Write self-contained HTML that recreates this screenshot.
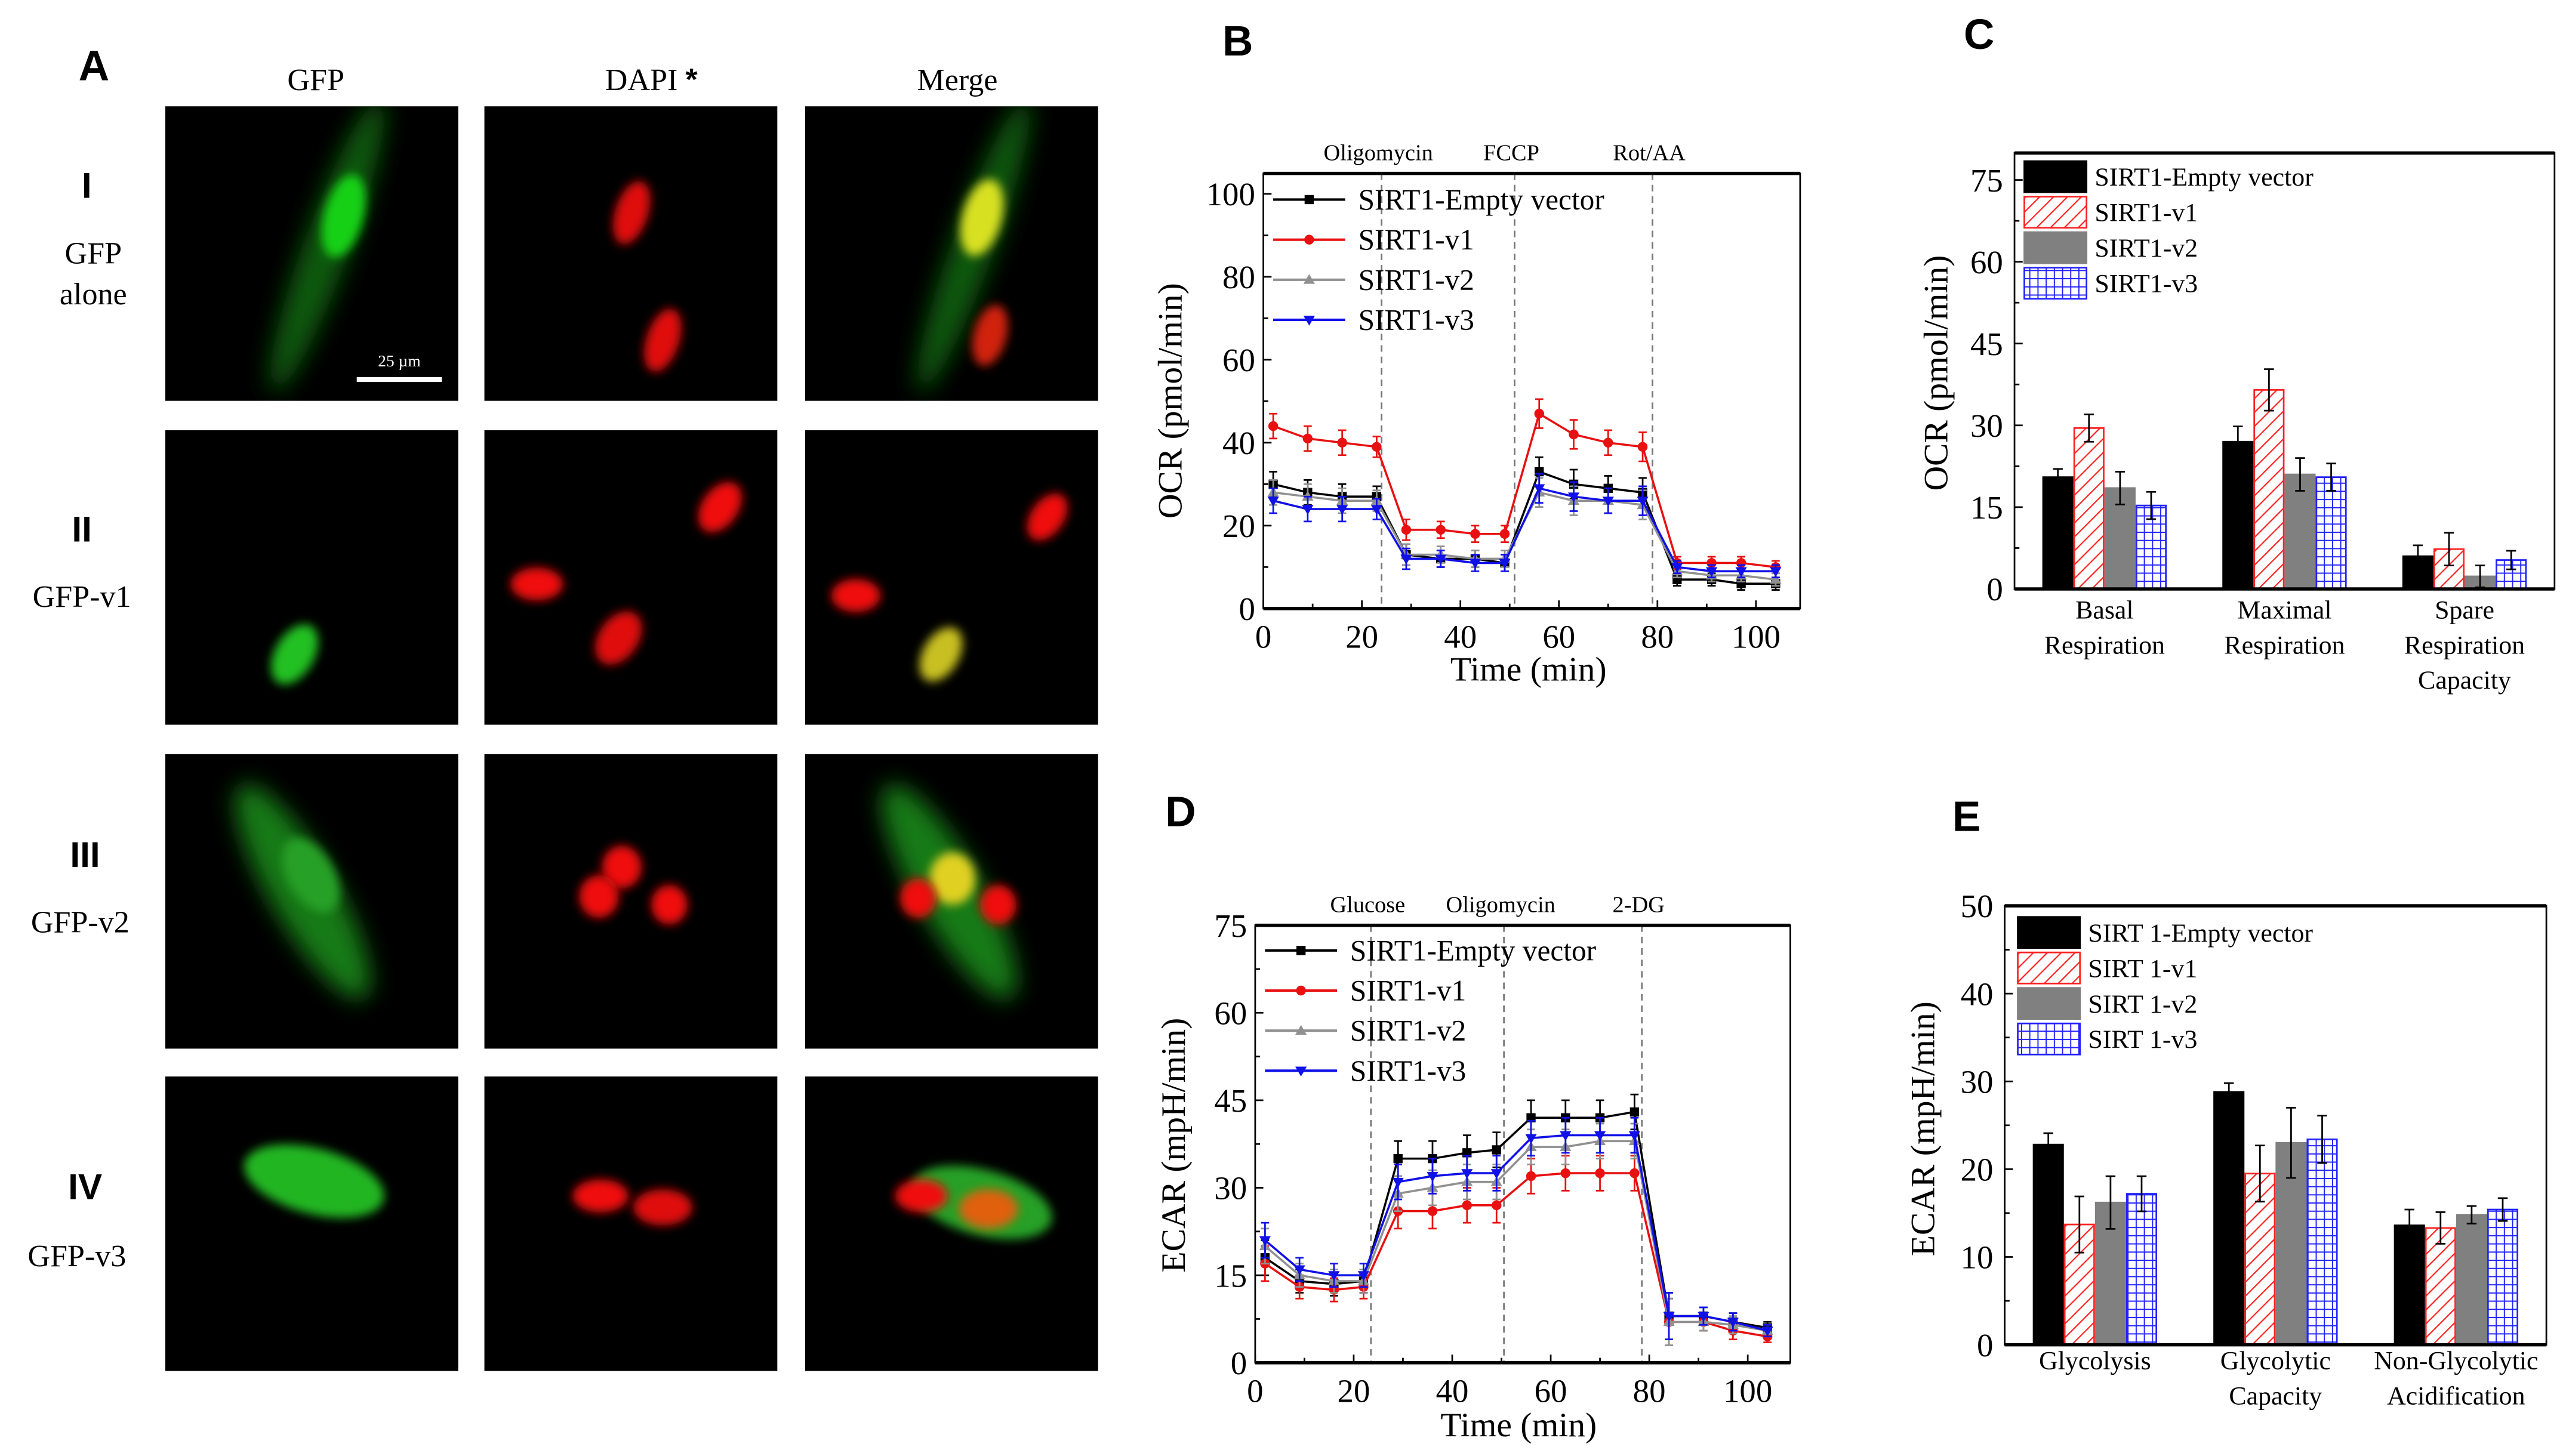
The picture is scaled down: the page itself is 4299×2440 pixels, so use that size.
<!DOCTYPE html>
<html><head><meta charset="utf-8">
<style>
html,body{margin:0;padding:0;background:#fff;}
svg{display:block;font-family:"Liberation Serif",serif;}
svg text{font-family:"Liberation Serif",serif;}
svg text.lbl{font-family:"Liberation Sans",sans-serif;font-weight:bold;}
</style></head>
<body>
<svg id="fig" width="4299" height="2440" viewBox="0 0 1568 890" preserveAspectRatio="none" xmlns="http://www.w3.org/2000/svg">
<defs>
<filter id="bl" x="-50%" y="-50%" width="200%" height="200%"><feGaussianBlur stdDeviation="3"/></filter>
<filter id="bl2" x="-50%" y="-50%" width="200%" height="200%"><feGaussianBlur stdDeviation="7"/></filter>
<pattern id="hatch" patternUnits="userSpaceOnUse" width="6" height="6" patternTransform="rotate(45)"><rect width="6" height="6" fill="#fff"/><line x1="0" y1="0" x2="0" y2="6" stroke="#f22" stroke-width="1.6"/></pattern>
<pattern id="grid" patternUnits="userSpaceOnUse" width="5" height="5"><rect width="5" height="5" fill="#fff"/><path d="M0 0H5M0 0V5" stroke="#22f" stroke-width="1.4"/></pattern>
</defs>

<!-- Panel A -->
<g>
<text class="lbl" x="48" y="49" font-size="26">A</text>
<text x="193" y="55" font-size="19" text-anchor="middle">GFP</text>
<text x="398" y="55" font-size="19" text-anchor="middle">DAPI <tspan font-family="Liberation Sans" font-weight="bold">*</tspan></text>
<text x="585" y="55" font-size="19" text-anchor="middle">Merge</text>
<text class="lbl" x="53" y="121" font-size="22" text-anchor="middle">I</text>
<text x="57" y="161" font-size="19" text-anchor="middle">GFP</text>
<text x="57" y="186" font-size="19" text-anchor="middle">alone</text>
<text class="lbl" x="50" y="331" font-size="22" text-anchor="middle">II</text>
<text x="50" y="371" font-size="19" text-anchor="middle">GFP-v1</text>
<text class="lbl" x="52" y="530" font-size="22" text-anchor="middle">III</text>
<text x="49" y="570" font-size="19" text-anchor="middle">GFP-v2</text>
<text class="lbl" x="52" y="733" font-size="22" text-anchor="middle">IV</text>
<text x="47" y="774" font-size="19" text-anchor="middle">GFP-v3</text>
<g id="imgs"></g>
</g>

<g id="charts"></g>
</svg>

<script>
// ===== Panel B data (OCR) =====
const ocrTimes = [2,9,16,23,29,36,43,49,56,63,70,77,84,91,97,104];
const ocrEmpty = [30,28,27,27,13,12,12,11,33,30,29,28,7,7,6,6];
const ocrV1 = [44,41,40,39,19,19,18,18,47,42,40,39,11,11,11,10];
const ocrV2 = [28,27,26,26,13,13,12,12,28,26,26,25,9,8,8,7];
const ocrV3 = [26,24,24,24,12,12,11,11,29,27,26,26,10,9,9,9];
const ocrErr = [3,3,3,2.5,2.5,2,2,2,3.5,3.5,3,3.5,1.5,1.5,1.5,1.5];
const ocrYTicks = [0,20,40,60,80,100];
const ocrXTicks = [0,20,40,60,80,100];
const ocrInjections = [24,51,79];
const ocrInjectionLabels = ["Oligomycin","FCCP","Rot/AA"];
// ===== Panel D data (ECAR) =====
const ecarTimes = [2,9,16,22,29,36,43,49,56,63,70,77,84,91,97,104];
const ecarEmpty = [18,14,13.5,14,35,35,36,36.5,42,42,42,43,8,8,7,6];
const ecarV1 = [17,13,12.5,13,26,26,27,27,32,32.5,32.5,32.5,7,7,5.5,4.5];
const ecarV2 = [20,15,14,14,29,30,31,31,37,37,38,38,7,7,6.5,5.5];
const ecarV3 = [21,16,15,15,31,32,32.5,32.5,38.5,39,39,39,8,8,7,5.5];
const ecarErr = [3,2,2,2,3,3,3,3,3,3,3,3,4,1.5,1.5,1];
const ecarYTicks = [0,15,30,45,60,75];
const ecarXTicks = [0,20,40,60,80,100];
const ecarInjections = [23.5,50.5,78.5];
const ecarInjectionLabels = ["Glucose","Oligomycin","2-DG"];
// ===== Panel C data =====
const ocrBarGroups = [["Basal","Respiration"],["Maximal","Respiration"],["Spare","Respiration","Capacity"]];
const ocrBarEmpty = [20.5,27,6];
const ocrBarV1 = [29.5,36.5,7.3];
const ocrBarV2 = [18.5,21,2.3];
const ocrBarV3 = [15.3,20.5,5.3];
const ocrBarErrEmpty = [1.5,2.8,2];
const ocrBarErrV1 = [2.5,3.8,3];
const ocrBarErrV2 = [3,3,2];
const ocrBarErrV3 = [2.5,2.5,1.7];
const ocrBarYTicks = [0,15,30,45,60,75];
// ===== Panel E data =====
const ecarBarGroups = [["Glycolysis"],["Glycolytic","Capacity"],["Non-Glycolytic","Acidification"]];
const ecarBarEmpty = [22.8,28.8,13.6];
const ecarBarV1 = [13.7,19.5,13.3];
const ecarBarV2 = [16.2,23,14.8];
const ecarBarV3 = [17.2,23.4,15.4];
const ecarBarErrEmpty = [1.3,1,1.8];
const ecarBarErrV1 = [3.2,3.2,1.8];
const ecarBarErrV2 = [3,4,1];
const ecarBarErrV3 = [2,2.7,1.3];
const ecarBarYTicks = [0,10,20,30,40,50];

const NS="http://www.w3.org/2000/svg";
function mk(tag,attrs,parent,txt){const e=document.createElementNS(NS,tag);for(const k in attrs)e.setAttribute(k,attrs[k]);if(txt!==undefined)e.textContent=txt;parent.appendChild(e);return e;}
const charts=document.getElementById('charts');

// ---------- microscopy images ----------
const imgs=document.getElementById('imgs');
const cols=[101,296,492], rows=[65,263,461,658];
const cellDefs=[
 [ [{c:'#0a5a0a',x:200,y:150,rx:14,ry:95,r:20,f:2},{c:'#18d018',x:210,y:132,rx:12,ry:26,r:15,f:1}],
   [{c:'#e01010',x:386,y:130,rx:10,ry:20,r:18,f:1},{c:'#e01010',x:405,y:208,rx:10,ry:20,r:18,f:1}],
   [{c:'#0a5a0a',x:595,y:150,rx:13,ry:95,r:20,f:2},{c:'#d8e020',x:600,y:133,rx:12,ry:24,r:15,f:1},{c:'#d02010',x:605,y:205,rx:10,ry:19,r:15,f:1}] ],
 [ [{c:'#20c020',x:180,y:400,rx:12,ry:20,r:30,f:1}],
   [{c:'#f01010',x:440,y:310,rx:11,ry:17,r:35,f:1},{c:'#f01010',x:328,y:357,rx:16,ry:10,r:0,f:1},{c:'#e01010',x:378,y:390,rx:12,ry:18,r:35,f:1}],
   [{c:'#f01010',x:640,y:316,rx:10,ry:16,r:35,f:1},{c:'#f01010',x:523,y:364,rx:15,ry:10,r:0,f:1},{c:'#c8c020',x:575,y:400,rx:11,ry:18,r:30,f:1}] ],
 [ [{c:'#157a15',x:185,y:545,rx:20,ry:75,r:-30,f:2},{c:'#25a025',x:190,y:535,rx:14,ry:25,r:-30,f:1}],
   [{c:'#f01010',x:380,y:530,rx:12,ry:13,r:0,f:1},{c:'#f01010',x:366,y:548,rx:12,ry:13,r:0,f:1},{c:'#f01010',x:409,y:553,rx:11,ry:12,r:0,f:1}],
   [{c:'#157a15',x:580,y:545,rx:20,ry:75,r:-30,f:2},{c:'#e0d020',x:582,y:537,rx:14,ry:16,r:0,f:1},{c:'#f01010',x:561,y:549,rx:11,ry:12,r:0,f:1},{c:'#f01010',x:610,y:553,rx:11,ry:12,r:0,f:1}] ],
 [ [{c:'#22b522',x:192,y:722,rx:44,ry:20,r:15,f:1}],
   [{c:'#f01010',x:367,y:731,rx:17,ry:10,r:0,f:1},{c:'#e01010',x:405,y:738,rx:18,ry:11,r:0,f:1}],
   [{c:'#25a025',x:600,y:735,rx:44,ry:20,r:15,f:1},{c:'#f01010',x:563,y:731,rx:16,ry:10,r:0,f:1},{c:'#e06010',x:604,y:739,rx:18,ry:12,r:0,f:1}] ]
];
rows.forEach((ry,ri)=>{cols.forEach((cx,ci)=>{
  const g=mk('g',{},imgs);
  
  
  mk('rect',{x:cx,y:ry,width:179,height:180,fill:'#000'},g);
  const cp='cp'+ri+ci; const cpe=mk('clipPath',{id:cp},g); mk('rect',{x:cx,y:ry,width:179,height:180},cpe);
  const gg=mk('g',{'clip-path':'url(#'+cp+')'},g);
  cellDefs[ri][ci].forEach(d=>{mk('ellipse',{cx:d.x,cy:d.y,rx:d.rx,ry:d.ry,fill:d.c,transform:'rotate('+d.r+' '+d.x+' '+d.y+')',filter:d.f==2?'url(#bl2)':'url(#bl)'},gg);});
});});
mk('line',{x1:218,y1:232,x2:270,y2:232,stroke:'#fff','stroke-width':3},imgs);
mk('text',{x:244,y:224,'font-size':10,fill:'#fff','text-anchor':'middle'},imgs,'25 µm');

// ---------- line chart ----------
const colors={e:'#000',v1:'#e81010',v2:'#909090',v3:'#1010e8'};
function marker(g,type,x,y,c){
  if(type==='s') mk('rect',{x:x-2.8,y:y-2.8,width:5.6,height:5.6,fill:c},g);
  else if(type==='c') mk('circle',{cx:x,cy:y,r:3,fill:c},g);
  else if(type==='u') mk('path',{d:`M${x} ${y-3.5}L${x+3.5} ${y+2.5}L${x-3.5} ${y+2.5}Z`,fill:c},g);
  else mk('path',{d:`M${x} ${y+3.5}L${x+3.5} ${y-2.5}L${x-3.5} ${y-2.5}Z`,fill:c},g);
}
function lineChart(o){
  const g=mk('g',{},charts);
  
  
  const X=v=>o.x0+(v-o.xmin)/(o.xmax-o.xmin)*(o.x1-o.x0);
  const Y=v=>o.y0-(v-o.ymin)/(o.ymax-o.ymin)*(o.y0-o.y1);
  const lt=mk('text',{class:'lbl',x:o.letter[1],y:o.letter[2],'font-size':26},g,o.letter[0]);
  
  o.inj.forEach((t,i)=>{
    const l=mk('line',{x1:X(t),x2:X(t),y1:o.top,y2:o.y0,stroke:'#777','stroke-dasharray':'4,3','stroke-width':1},g);
    
    const tx=mk('text',{x:X(t)-2,y:o.top-8,'font-size':14,'text-anchor':'middle'},g,o.injL[i]);
    
  });
  o.series.forEach(s=>{
    const sg=mk('g',{},g);
    
    const pts=o.times.map((t,i)=>X(t)+','+Y(s.v[i])).join(' ');
    mk('polyline',{points:pts,fill:'none',stroke:s.c,'stroke-width':1.3},sg);
    o.times.forEach((t,i)=>{
      const x=X(t),yt=Y(s.v[i]+o.err[i]),yb=Y(s.v[i]-o.err[i]);
      mk('path',{d:`M${x} ${yt}V${yb}M${x-2.5} ${yt}H${x+2.5}M${x-2.5} ${yb}H${x+2.5}`,stroke:s.c,'stroke-width':1,fill:'none'},sg);
      marker(sg,s.m,x,Y(s.v[i]),s.c);
    });
  });
  const fr=mk('rect',{x:o.x0,y:o.top,width:o.right-o.x0,height:o.y0-o.top,fill:'none',stroke:'#000','stroke-width':1},g);
  
  mk('line',{x1:o.x0,x2:o.right,y1:o.y0,y2:o.y0,stroke:'#000','stroke-width':2},g);
  mk('line',{x1:o.x0,x2:o.right,y1:o.top,y2:o.top,stroke:'#000','stroke-width':2},g);
  o.yt.forEach((v,i)=>{
    mk('line',{x1:o.x0,x2:o.x0+5,y1:Y(v),y2:Y(v),stroke:'#000'},g);
    if(i<o.yt.length-1){const m=(v+o.yt[i+1])/2;mk('line',{x1:o.x0,x2:o.x0+3,y1:Y(m),y2:Y(m),stroke:'#000'},g);}
    const t=mk('text',{x:o.x0-5,y:Y(v)+7,'font-size':20,'text-anchor':'end'},g,v);
    
  });
  o.xt.forEach((v,i)=>{
    mk('line',{x1:X(v),x2:X(v),y1:o.y0,y2:o.y0-5,stroke:'#000'},g);
    if(i<o.xt.length-1){const m=(v+o.xt[i+1])/2;mk('line',{x1:X(m),x2:X(m),y1:o.y0,y2:o.y0-3,stroke:'#000'},g);}
    const t=mk('text',{x:X(v),y:o.y0+24,'font-size':20,'text-anchor':'middle'},g,v);
    
  });
  const xt=mk('text',{x:o.xtitle[0],y:o.xtitle[1],'font-size':21,'text-anchor':'middle'},g,'Time (min)');
  
  const yt=mk('text',{x:0,y:0,'font-size':21,'text-anchor':'middle',transform:`translate(${o.ytitle[0]},${o.ytitle[1]}) rotate(-90)`},g,o.ylabel);
  
  o.series.forEach((s,i)=>{
    const lg=mk('g',{},g);
    
    const y=o.leg[1]+i*o.leg[2];
    mk('line',{x1:o.leg[0],x2:o.leg[0]+44,y1:y,y2:y,stroke:s.c,'stroke-width':1.5},lg);
    marker(lg,s.m,o.leg[0]+22,y,s.c);
    mk('text',{x:o.leg[0]+52,y:y+6,'font-size':18},lg,s.n);
  });
}
lineChart({name:'panel-b-ocr-chart',letter:['B',747,34],x0:772,x1:1073,right:1100,xmin:0,xmax:100,y0:372,y1:118.5,ymin:0,ymax:100,top:106,
 times:ocrTimes,err:ocrErr,inj:ocrInjections,injL:ocrInjectionLabels,yt:ocrYTicks,xt:ocrXTicks,
 series:[{n:'SIRT1-Empty vector',v:ocrEmpty,c:colors.e,m:'s'},{n:'SIRT1-v1',v:ocrV1,c:colors.v1,m:'c'},{n:'SIRT1-v2',v:ocrV2,c:colors.v2,m:'u'},{n:'SIRT1-v3',v:ocrV3,c:colors.v3,m:'d'}],
 xtitle:[934,416],ytitle:[722,245],ylabel:'OCR (pmol/min)',leg:[778,122,24.5]});
lineChart({name:'panel-d-ecar-chart',letter:['D',712,505],x0:767,x1:1068,right:1094,xmin:0,xmax:100,y0:833,y1:565.6,ymin:0,ymax:75,top:565.6,
 times:ecarTimes,err:ecarErr,inj:ecarInjections,injL:ecarInjectionLabels,yt:ecarYTicks,xt:ecarXTicks,
 series:[{n:'SIRT1-Empty vector',v:ecarEmpty,c:colors.e,m:'s'},{n:'SIRT1-v1',v:ecarV1,c:colors.v1,m:'c'},{n:'SIRT1-v2',v:ecarV2,c:colors.v2,m:'u'},{n:'SIRT1-v3',v:ecarV3,c:colors.v3,m:'d'}],
 xtitle:[928,878],ytitle:[724,700],ylabel:'ECAR (mpH/min)',leg:[773,581,24.5]});

// ---------- bar chart ----------
function barChart(o){
  const g=mk('g',{},charts);
  
  
  const Y=v=>o.y0-v/o.ymax*(o.y0-o.y1);
  const lt=mk('text',{class:'lbl',x:o.letter[1],y:o.letter[2],'font-size':26},g,o.letter[0]);
  
  const fills=['#000','url(#hatch)','#808080','url(#grid)'];
  const strokes=['#000','#f22','#808080','#22f'];
  const gw=(o.right-o.left)/o.groups.length, bw=19;
  o.groups.forEach((lab,gi)=>{
    const cx=o.left+gw*(gi+0.5), gs=cx-2*bw;
    o.vals.forEach((arr,si)=>{
      const x=gs+si*bw, v=arr[gi], e=o.errs[si][gi];
      const r=mk('rect',{x:x+0.5,y:Y(v),width:bw-1,height:o.y0-Y(v),fill:fills[si],stroke:strokes[si],'stroke-width':1},g);
      
      const bx=x+bw/2;
      mk('path',{d:`M${bx} ${Y(v+e)}V${Y(v-e)}M${bx-3} ${Y(v+e)}H${bx+3}M${bx-3} ${Y(v-e)}H${bx+3}`,stroke:'#000','stroke-width':1,fill:'none'},g);
    });
    lab.forEach((t,li)=>{
      const tx=mk('text',{x:cx,y:o.y0+o.labY+li*21.5,'font-size':16,'text-anchor':'middle'},g,t);
      
    });
  });
  mk('rect',{x:o.left,y:o.top,width:o.right-o.left,height:o.y0-o.top,fill:'none',stroke:'#000','stroke-width':1},g);
  mk('line',{x1:o.left,x2:o.right,y1:o.y0,y2:o.y0,stroke:'#000','stroke-width':2},g);
  mk('line',{x1:o.left,x2:o.right,y1:o.top,y2:o.top,stroke:'#000','stroke-width':2},g);
  o.yt.forEach((v,i)=>{
    mk('line',{x1:o.left,x2:o.left+5,y1:Y(v),y2:Y(v),stroke:'#000'},g);
    if(i<o.yt.length-1){const m=(v+o.yt[i+1])/2;mk('line',{x1:o.left,x2:o.left+3,y1:Y(m),y2:Y(m),stroke:'#000'},g);}
    const t=mk('text',{x:o.left-7,y:Y(v)+7,'font-size':20,'text-anchor':'end'},g,v);
    
  });
  const yt=mk('text',{x:0,y:0,'font-size':21,'text-anchor':'middle',transform:`translate(${o.ytitle[0]},${o.ytitle[1]}) rotate(-90)`},g,o.ylabel);
  
  o.legNames.forEach((n,i)=>{
    const lg=mk('g',{},g);
    
    const y=o.leg[1]+i*o.leg[2];
    mk('rect',{x:o.leg[0],y:y-9.5,width:38,height:19,fill:fills[i],stroke:strokes[i]},lg);
    mk('text',{x:o.leg[0]+43,y:y+5.5,'font-size':16},lg,n);
  });
}
barChart({name:'panel-c-ocr-bars',letter:['C',1200,30],left:1231,right:1561,top:93.5,y0:360,y1:110,ymax:75,
 groups:ocrBarGroups,vals:[ocrBarEmpty,ocrBarV1,ocrBarV2,ocrBarV3],errs:[ocrBarErrEmpty,ocrBarErrV1,ocrBarErrV2,ocrBarErrV3],
 names:['empty','v1','v2','v3'],yt:ocrBarYTicks,ytitle:[1190,228],ylabel:'OCR (pmol/min)',labY:18,
 legNames:['SIRT1-Empty vector','SIRT1-v1','SIRT1-v2','SIRT1-v3'],leg:[1237,108,21.7]});
barChart({name:'panel-e-ecar-bars',letter:['E',1193,508],left:1225,right:1556,top:553.7,y0:822,y1:553.7,ymax:50,
 groups:ecarBarGroups,vals:[ecarBarEmpty,ecarBarV1,ecarBarV2,ecarBarV3],errs:[ecarBarErrEmpty,ecarBarErrV1,ecarBarErrV2,ecarBarErrV3],
 names:['empty','v1','v2','v3'],yt:ecarBarYTicks,ytitle:[1182,690],ylabel:'ECAR (mpH/min)',labY:15,
 legNames:['SIRT 1-Empty vector','SIRT 1-v1','SIRT 1-v2','SIRT 1-v3'],leg:[1233,570,21.7]});
</script>
</body></html>
